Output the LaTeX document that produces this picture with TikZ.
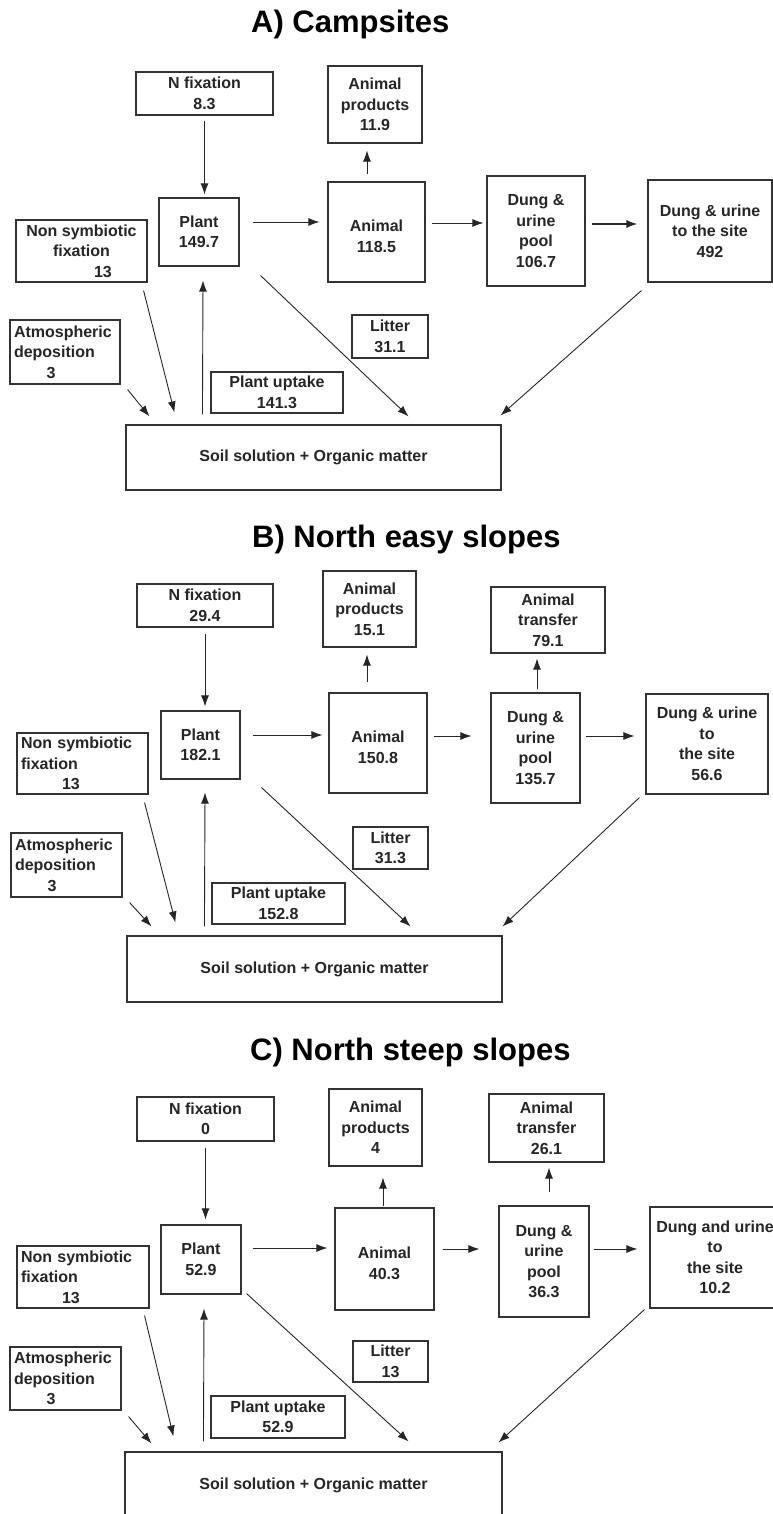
\documentclass[tikz,border=0pt]{standalone}
\usepackage{fontspec}
\setmainfont{Liberation Sans}
\usetikzlibrary{arrows.meta,calc}

\begin{document}
\begin{tikzpicture}[x=1pt,y=-1pt,
    box/.style={draw=black!80, line width=1.1pt, inner xsep=4pt, inner ysep=1pt, align=center,
      font=\bfseries\fontsize{16}{20.5}\selectfont, text=black!85},
    flow/.style={draw=black!85, line width=0.9pt, -{Latex[length=11pt,width=8pt]}},
    paneltitle/.style={anchor=base west, inner sep=0pt, font=\bfseries\fontsize{31}{36}\selectfont}]
  \useasboundingbox (0,0) rectangle (773,1514);
  \clip (0,0) rectangle (773,1514);
  \fill[white] (0,0) rectangle (773,1514);

  % A) Campsites
  \node[paneltitle] (titleA) at (251,33) {A) Campsites};
  \node[box, minimum width=137pt, minimum height=43pt] (nfixA) at (204.5,93.5) {N fixation\\8.3};
  \node[box, minimum width=94pt, minimum height=77pt] (prodA) at (375,104.5) {Animal\\products\\11.9};
  \node[box, minimum width=80pt, minimum height=68pt] (plantA) at (199,232) {Plant\\149.7};
  \node[box, minimum width=131pt, minimum height=62pt] (nonsymA) at (81.5,251) {Non symbiotic\\fixation\\\hspace*{43pt}13};
  \node[box, minimum width=97pt, minimum height=100pt] (animalA) at (376.5,232) {\mbox{}\\Animal\\118.5};
  \node[box, minimum width=98pt, minimum height=110pt] (poolA) at (536,231) {Dung \&\\urine\\pool\\106.7};
  \node[box, minimum width=124pt, minimum height=102pt] (siteA) at (710,231) {Dung \& urine\\to the site\\492};
  \node[box, text width=102pt, align=left, minimum height=64pt] (atmA) at (65,352) {Atmospheric\\deposition\\\hspace*{32.5pt}3};
  \node[box, minimum width=132pt, minimum height=41pt] (uptakeA) at (277,392.5) {Plant uptake\\141.3};
  \node[box, minimum width=76pt, minimum height=43pt] (litterA) at (390,336.5) {Litter\\31.1};
  \node[box, minimum width=375pt, minimum height=65pt] (soilA) at (313.5,457.5) {Soil solution + Organic matter};

  \draw[flow] ($(nfixA.south)+(0,5)$) -- ($(nfixA.south |- plantA.north)+(0,-3)$);
  \draw[flow] ($(plantA.east)+(13,-10)$) -- ($(animalA.west)+(-8,-10)$);
  \draw[flow] ($(animalA.north)+(-9.5,-7)$) -- ($(prodA.south)+(-8,7)$);
  \draw[flow] ($(animalA.east)+(6,-9)$) -- ($(poolA.west)+(-3,-8)$);
  \draw[flow, line width=1.6pt] ($(poolA.east)+(6,-7)$) -- ($(siteA.west)+(-10,-7)$);
  \draw[flow] ($(nonsymA.south east)+(-4,8)$) -- ($(soilA.north west)+(49,-12)$);
  \draw[flow] ($(atmA.south east)+(7,5)$) -- ($(soilA.north west)+(24,-8)$);
  \draw[flow] ($(soilA.north west)+(77,-10)$) -- ($(plantA.south)+(4,14)$);
  \draw[flow] ($(plantA.south east)+(21,9)$) -- ($(soilA.north east)+(-93,-8)$);
  \draw[flow] ($(siteA.south west)+(-6,8)$) -- ($(soilA.north east)+(-1,-9)$);

  % B) North easy slopes
  \node[paneltitle] (titleB) at (252,547) {B) North easy slopes};
  \node[box, minimum width=136pt, minimum height=43pt] (nfixB) at (205,605.5) {N fixation\\29.4};
  \node[box, minimum width=93pt, minimum height=76pt] (prodB) at (369.5,609) {Animal\\products\\15.1};
  \node[box, minimum width=114pt, minimum height=66pt] (transB) at (548,620) {Animal\\transfer\\79.1};
  \node[box, minimum width=79pt, minimum height=68pt] (plantB) at (200.5,745) {Plant\\182.1};
  \node[box, text width=123pt, align=left, minimum height=61pt] (nonsymB) at (82.5,763.5) {Non symbiotic\\fixation\\\hspace*{41pt}13};
  \node[box, minimum width=98pt, minimum height=100pt] (animalB) at (378,743) {\mbox{}\\Animal\\150.8};
  \node[box, minimum width=89pt, minimum height=110pt] (poolB) at (535.5,748) {Dung \&\\urine\\pool\\135.7};
  \node[box, minimum width=122pt, minimum height=100pt] (siteB) at (707,744) {Dung \& urine\\to\\the site\\56.6};
  \node[box, text width=103pt, align=left, minimum height=64pt] (atmB) at (66.5,865) {Atmospheric\\deposition\\\hspace*{32.5pt}3};
  \node[box, minimum width=133pt, minimum height=41pt] (uptakeB) at (278.5,903.5) {Plant uptake\\152.8};
  \node[box, minimum width=75pt, minimum height=42pt] (litterB) at (390.5,848) {Litter\\31.3};
  \node[box, minimum width=375pt, minimum height=66pt] (soilB) at (314.5,969) {Soil solution + Organic matter};

  \draw[flow] ($(nfixB.south)+(0,6)$) -- ($(nfixB.south |- plantB.north)+(0,-4)$);
  \draw[flow] ($(plantB.east)+(12,-10)$) -- ($(animalB.west)+(-6,-8)$);
  \draw[flow] ($(animalB.north)+(-11,-10)$) -- ($(prodB.south)+(-2.5,7)$);
  \draw[flow] ($(animalB.east)+(6,-7)$) -- ($(poolB.west)+(-19,-12)$);
  \draw[flow] ($(poolB.north)+(1.5,-3)$) -- ($(transB.south)+(-11,5)$);
  \draw[flow] ($(poolB.east)+(5,-12)$) -- ($(siteB.west)+(-11,-8)$);
  \draw[flow] ($(nonsymB.south east)+(-4,8)$) -- ($(soilB.north west)+(49,-13)$);
  \draw[flow] ($(atmB.south east)+(7,5)$) -- ($(soilB.north west)+(25,-9)$);
  \draw[flow] ($(soilB.north west)+(78,-9)$) -- ($(plantB.south)+(4.5,13)$);
  \draw[flow] ($(plantB.south east)+(21,8)$) -- ($(soilB.north east)+(-92,-9)$);
  \draw[flow] ($(siteB.south west)+(-6,3)$) -- ($(soilB.north east)+(0,-9)$);

  % C) North steep slopes
  \node[paneltitle] (titleC) at (250,1060) {C) North steep slopes};
  \node[box, minimum width=137pt, minimum height=44pt] (nfixC) at (205.5,1119) {N fixation\\0};
  \node[box, minimum width=93pt, minimum height=77pt] (prodC) at (375.5,1127.5) {Animal\\products\\4};
  \node[box, minimum width=115pt, minimum height=68pt] (transC) at (546.5,1128) {Animal\\transfer\\26.1};
  \node[box, minimum width=80pt, minimum height=69pt] (plantC) at (201,1259.5) {Plant\\52.9};
  \node[box, text width=124pt, align=left, minimum height=62pt] (nonsymC) at (83,1277) {Non symbiotic\\fixation\\\hspace*{41pt}13};
  \node[box, minimum width=99pt, minimum height=102pt] (animalC) at (384.5,1259) {\mbox{}\\Animal\\40.3};
  \node[box, minimum width=90pt, minimum height=111pt] (poolC) at (544,1261.5) {Dung \&\\urine\\pool\\36.3};
  \node[box, minimum width=130pt, minimum height=101pt] (siteC) at (715,1257.5) {Dung and urine\\to\\the site\\10.2};
  \node[box, text width=103pt, align=left, minimum height=63pt] (atmC) at (65.5,1378.5) {Atmospheric\\deposition\\\hspace*{32.5pt}3};
  \node[box, minimum width=134pt, minimum height=42pt] (uptakeC) at (278,1417) {Plant uptake\\52.9};
  \node[box, minimum width=75pt, minimum height=41pt] (litterC) at (390.5,1361.5) {Litter\\13};
  \node[box, minimum width=377pt, minimum height=66pt] (soilC) at (313.5,1485) {Soil solution + Organic matter};

  \draw[flow] ($(nfixC.south)+(0,6)$) -- ($(nfixC.south |- plantC.north)+(0,-5)$);
  \draw[flow] ($(plantC.east)+(11,-11.5)$) -- ($(animalC.west)+(-7,-11)$);
  \draw[flow] ($(animalC.north)+(-1.5,-1)$) -- ($(prodC.south)+(7.5,11)$);
  \draw[flow] ($(animalC.east)+(8,-10)$) -- ($(poolC.west)+(-19,-12.5)$);
  \draw[flow] ($(poolC.north)+(5,-13)$) -- ($(transC.south)+(2.5,5)$);
  \draw[flow] ($(poolC.east)+(4,-12.5)$) -- ($(siteC.west)+(-12,-8.5)$);
  \draw[flow] ($(nonsymC.south east)+(-5,7)$) -- ($(soilC.north west)+(49,-15)$);
  \draw[flow] ($(atmC.south east)+(7,6)$) -- ($(soilC.north west)+(27,-8)$);
  \draw[flow] ($(soilC.north west)+(79,-10)$) -- ($(plantC.south)+(3,14)$);
  \draw[flow] ($(plantC.south east)+(5,-1)$) -- ($(soilC.north east)+(-94,-10)$);
  \draw[flow] ($(siteC.south west)+(-5,1)$) -- ($(soilC.north east)+(-4,-9)$);
\end{tikzpicture}
\end{document}
